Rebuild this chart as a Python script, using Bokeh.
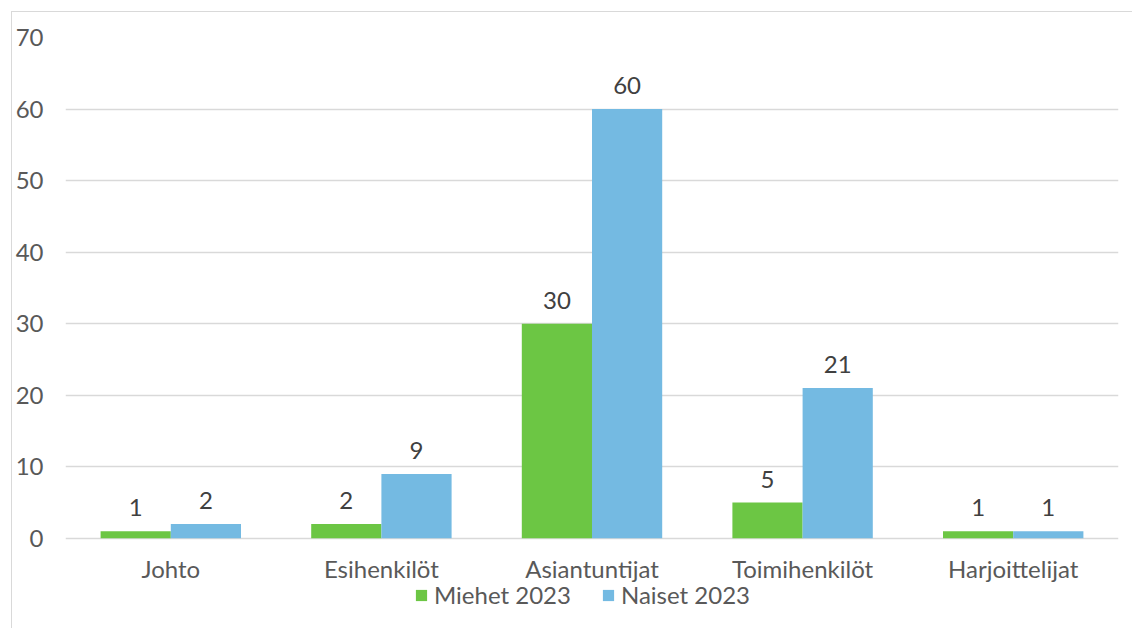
from bokeh.plotting import figure
from bokeh.models import (ColumnDataSource, FactorRange, Range1d, LabelSet,
                          Legend, LegendItem, FixedTicker, CategoricalAxis)
from bokeh.core.properties import value
from bokeh.transform import dodge
from bokeh.embed import file_html
from bokeh.resources import INLINE

categories = ["Johto", "Esihenkilöt", "Asiantuntijat", "Toimihenkilöt", "Harjoittelijat"]
miehet_2023 = [1, 2, 30, 5, 1]
naiset_2023 = [2, 9, 60, 21, 1]
y_ticks = [0, 10, 20, 30, 40, 50, 60, 70]
series_names = ["Miehet 2023", "Naiset 2023"]

GREEN = "#6cc644"
BLUE = "#74bae2"
FONT = "Lato"
FS = "24px"

source = ColumnDataSource(data=dict(
    cat=categories,
    miehet=miehet_2023,
    naiset=naiset_2023,
    miehet_txt=[str(v) for v in miehet_2023],
    naiset_txt=[str(v) for v in naiset_2023],
))

# the frame runs down to the bottom edge; the space under zero holds the
# category labels and the legend
p = figure(
    x_range=FactorRange(*categories, range_padding=0),
    y_range=Range1d(-12.74, 70),
    width=1121, height=617,
    output_backend="svg", toolbar_location=None,
    x_axis_location=None,
    min_border_left=53, min_border_right=15, min_border_top=25, min_border_bottom=0,
    outline_line_color=None,
    margin=(11, 0, 0, 11),
    styles={"border-left": "1px solid #d9d9d9", "border-top": "1px solid #d9d9d9"},
)

bw = 1 / 3
r_m = p.vbar(x=dodge("cat", -bw / 2, range=p.x_range), top="miehet", width=bw,
             source=source, fill_color=GREEN, line_color=None)
r_n = p.vbar(x=dodge("cat", bw / 2, range=p.x_range), top="naiset", width=bw,
             source=source, fill_color=BLUE, line_color=None)

for col, off in (("miehet", -bw / 2), ("naiset", bw / 2)):
    p.add_layout(LabelSet(
        x=dodge("cat", off, range=p.x_range), y=col, text=col + "_txt", source=source,
        text_align="center", text_baseline="bottom", y_offset=15,
        text_font=value(FONT), text_font_size=FS, text_color="#404040",
    ))

# grid
p.xgrid.grid_line_color = None
p.ygrid.grid_line_color = "#d9d9d9"
p.ygrid.grid_line_width = 1.5
p.ygrid.ticker = FixedTicker(ticks=y_ticks)

# category axis pinned to zero
xaxis = CategoricalAxis(fixed_location=0)
p.add_layout(xaxis, "below")

p.yaxis.ticker = FixedTicker(ticks=y_ticks)
for ax in (xaxis, p.yaxis[0]):
    ax.axis_line_color = None
    ax.major_tick_line_color = None
    ax.minor_tick_line_color = None
    ax.major_tick_out = 0
    ax.major_tick_in = 0
    ax.minor_tick_out = 0
    ax.minor_tick_in = 0
    ax.major_label_text_font = FONT
    ax.major_label_text_font_size = FS
    ax.major_label_text_color = "#595959"
p.yaxis.major_label_standoff = 22
xaxis.major_label_standoff = 16

legend = Legend(
    items=[LegendItem(label=series_names[0], renderers=[r_m]),
           LegendItem(label=series_names[1], renderers=[r_n])],
    orientation="horizontal", location=(349, 20),
    label_text_font=FONT, label_text_font_size=FS, label_text_color="#595959",
    glyph_width=14, glyph_height=14, spacing=30, label_standoff=6,
    border_line_color=None, background_fill_alpha=0, padding=0, margin=0,
)
p.add_layout(legend, "center")

open("out.html", "w").write(file_html(p, INLINE))
